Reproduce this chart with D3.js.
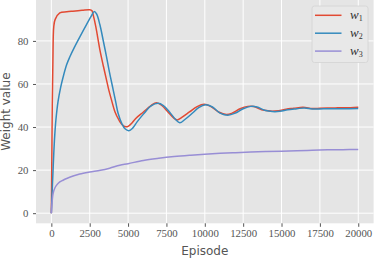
<!DOCTYPE html>
<html><head><meta charset="utf-8">
<script src="https://cdn.jsdelivr.net/npm/d3@7"></script>
<style>body{margin:0;background:#fff}svg{display:block}</style>
</head><body><svg id="c" width="374" height="259"></svg>
<script>
const xTicks=[0,2500,5000,7500,10000,12500,15000,17500,20000];
const yTicks=[0,20,40,60,80];
const seriesNames=["w1","w2","w3"];
const colors=["#E24A33","#348ABD","#988ED5"];
const w1Ep=[0,30,60,100,160,250,550,1000,1400,2000,2500,2650,2720,2900,3160,3400,3590,3750,3920,4150,4400,4600,4850,5000,5200,5500,6000,6500,6850,7200,7600,8000,8200,8500,9000,9500,9960,10400,10900,11400,11800,12300,12800,13200,13700,14300,14800,15300,15800,16400,17000,17500,18000,18500,19000,19500,20000];
const w1Val=[0,25,50,70,86.8,90,93,93.5,93.8,94.2,94.5,94,92.3,86.5,76,68,62,57,52.6,47,43.3,41.2,40.1,40.3,41.5,44,47,50,51.3,50,47,44,43.3,44.5,47,49.5,50.6,49.5,47,45.8,46.5,48.5,49.6,49.5,48,47.4,47.6,48.3,48.7,49.2,48.6,48.7,48.8,48.9,49,49,49.2];
const w2Ep=[0,40,100,160,220,300,440,600,760,1000,1200,1500,1850,2290,2600,2790,2950,3160,3400,3590,3800,4030,4200,4350,4600,4800,5050,5300,5600,6000,6500,6950,7300,7700,8100,8370,8700,9200,9600,10050,10500,11000,11500,12000,12500,13000,13400,13900,14400,14900,15400,16000,16500,17000,17500,18000,19000,20000];
const w2Val=[0,8,18,28,36,43.5,52,58.2,63,69,72.5,77,81.8,87.6,91.5,93.6,92.5,87.6,79.5,72.8,65,57.3,51.5,46.4,41.5,39.2,38.3,39.5,42.5,46,49.8,51,50,47,43.5,42,43.5,46.5,49,50.3,49.3,46.5,45.5,46.5,48.5,49.6,49.3,47.8,47.2,47.3,48,48.5,48.9,48.4,48.4,48.5,48.5,48.6];
const w3Ep=[0,30,60,110,200,330,550,760,1000,1420,1850,2500,3200,3800,4460,5000,6000,7000,8000,9000,10000,11000,12000,13000,14000,15000,16000,17000,18000,19000,20000];
const w3Val=[0,3.5,6,9,11.2,12.9,14.5,15.3,16.1,17.3,18.2,19.1,19.9,20.9,22.3,23,24.5,25.5,26.3,26.9,27.4,27.8,28.1,28.4,28.6,28.8,29,29.2,29.4,29.5,29.6];

const svg=d3.select("#c");
const L=36,R=373.6,T=0,B=223.3;
const x=d3.scaleLinear().domain([-1000,21000]).range([L,R]);
const y=d3.scaleLinear().domain([-4.7,99.0]).range([B,T]);
svg.append("rect").attr("x",L).attr("y",T).attr("width",R-L).attr("height",B-T).attr("fill","#E5E5E5");
const g=svg.append("g");
g.selectAll(".gx").data(xTicks).enter().append("line").attr("x1",d=>x(d)).attr("x2",d=>x(d)).attr("y1",T).attr("y2",B).attr("stroke","#fff").attr("stroke-width",1);
g.selectAll(".gy").data(yTicks).enter().append("line").attr("y1",d=>y(d)).attr("y2",d=>y(d)).attr("x1",L).attr("x2",R).attr("stroke","#fff").attr("stroke-width",1);

const xa=svg.append("g").attr("transform",`translate(0,${B})`).call(d3.axisBottom(x).tickValues(xTicks).tickSize(3.5).tickPadding(3).tickFormat(d3.format("d")));
const ya=svg.append("g").attr("transform",`translate(${L},0)`).call(d3.axisLeft(y).tickValues(yTicks).tickSize(3).tickPadding(4.5).tickFormat(d3.format("d")));
[xa,ya].forEach(a=>{a.select(".domain").remove();a.selectAll("line").attr("stroke","#555");a.selectAll("text").attr("fill","#555").attr("font-family","Liberation Serif, DejaVu Serif, serif").attr("font-size","10.8px");});

svg.append("clipPath").attr("id","pc").append("rect").attr("x",L).attr("y",T).attr("width",R-L).attr("height",B-T);
const line=d3.line().x(d=>x(d[0])).y(d=>y(d[1])).curve(d3.curveCatmullRom.alpha(0.5));
const data=[d3.zip(w1Ep,w1Val),d3.zip(w2Ep,w2Val),d3.zip(w3Ep,w3Val)];
svg.append("g").attr("clip-path","url(#pc)").selectAll("path").data(data).enter().append("path")
  .attr("d",line).attr("fill","none").attr("stroke",(d,i)=>colors[i]).attr("stroke-width",1.5).attr("stroke-linejoin","round");

svg.append("text").attr("x",(L+R)/2).attr("y",254.5).attr("text-anchor","middle").attr("font-family","DejaVu Sans, sans-serif").attr("font-size","12px").attr("fill","#555").text("Episode");
svg.append("text").attr("transform",`translate(10,${(T+B)/2}) rotate(-90)`).attr("text-anchor","middle").attr("font-family","DejaVu Sans, sans-serif").attr("font-size","12px").attr("fill","#555").text("Weight value");

const lg=svg.append("g");
lg.append("rect").attr("x",312).attr("y",6).attr("width",56).attr("height",56.5).attr("rx",2.5).attr("fill","#E8E8E8").attr("stroke","#D3D3D3").attr("stroke-width",0.8);
seriesNames.forEach((n,i)=>{
  const yy=15.3+i*17.9;
  lg.append("line").attr("x1",315).attr("x2",341.5).attr("y1",yy).attr("y2",yy).attr("stroke",colors[i]).attr("stroke-width",1.5);
  const t=lg.append("text").attr("x",350).attr("y",yy+3.5).attr("font-family","Liberation Serif, DejaVu Serif, serif").attr("fill","#333");
  t.append("tspan").attr("font-style","italic").attr("font-size","13px").text(n[0]);
  t.append("tspan").attr("font-size","8px").attr("dy","2.5").text(n.slice(1));
});
</script></body></html>
